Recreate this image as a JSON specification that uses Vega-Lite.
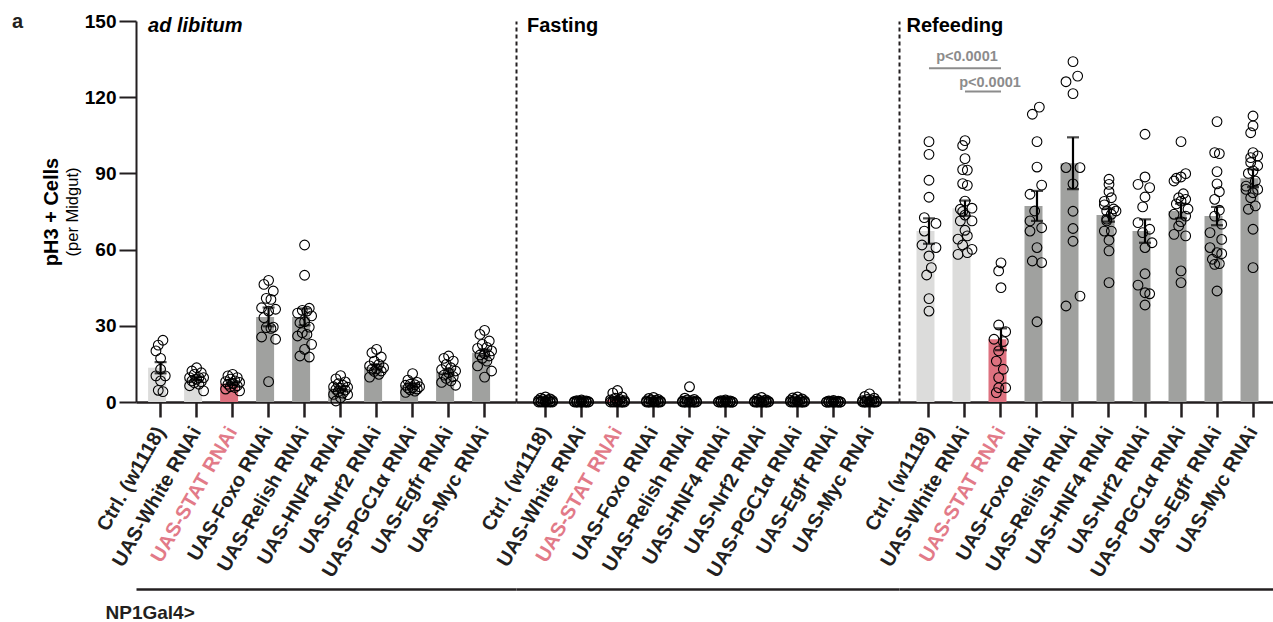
{
"$schema": "https://vega.github.io/schema/vega-lite/v6.json",
"padding": {"left": 12, "top": 12, "right": 0, "bottom": 0},
"background": "white",
"title": {"text": "a", "anchor": "start", "frame": "bounds", "fontSize": 20, "fontWeight": "bold", "font": "Liberation Sans", "color": "#231f20", "offset": -20, "dx": -29},
"config": {"view": {"stroke": null}, "font": "Liberation Sans", "axis": {"grid": false, "labelFont": "Liberation Sans", "titleFont": "Liberation Sans"}},
"datasets": {
"groups": [{"c": "A", "label": "ad libitum"}, {"c": "F", "label": "Fasting"}, {"c": "R", "label": "Refeeding"}],
"pvals": [
{"k": 1, "g1": "Ctrl. (w1118)", "g2": "UAS-STAT RNAi", "y": 131.4, "tg": "UAS-White RNAi", "ty": 135.8, "label": "p<0.0001"},
{"k": 2, "g1": "UAS-White RNAi", "g2": "UAS-STAT RNAi", "y": 122.2, "tg": "UAS-STAT RNAi", "ty": 125.7, "label": "p<0.0001"}
],
"bars": [
{"c":"A","g":"Ctrl. (w1118)","m":13.5,"s":2.2},
{"c":"A","g":"UAS-White RNAi","m":9.3,"s":0.7},
{"c":"A","g":"UAS-STAT RNAi","m":7.2,"s":0.5},
{"c":"A","g":"UAS-Foxo RNAi","m":33.5,"s":3.7},
{"c":"A","g":"UAS-Relish RNAi","m":33.5,"s":3.3},
{"c":"A","g":"UAS-HNF4 RNAi","m":5.3,"s":0.8},
{"c":"A","g":"UAS-Nrf2 RNAi","m":13.8,"s":1.0},
{"c":"A","g":"UAS-PGC1α RNAi","m":6.7,"s":0.6},
{"c":"A","g":"UAS-Egfr RNAi","m":11.9,"s":0.9},
{"c":"A","g":"UAS-Myc RNAi","m":19.4,"s":1.2},
{"c":"F","g":"Ctrl. (w1118)","m":0.5,"s":0.2},
{"c":"F","g":"UAS-White RNAi","m":0.2,"s":0.1},
{"c":"F","g":"UAS-STAT RNAi","m":0.9,"s":0.3},
{"c":"F","g":"UAS-Foxo RNAi","m":0.4,"s":0.2},
{"c":"F","g":"UAS-Relish RNAi","m":0.6,"s":0.4},
{"c":"F","g":"UAS-HNF4 RNAi","m":0.2,"s":0.1},
{"c":"F","g":"UAS-Nrf2 RNAi","m":0.4,"s":0.2},
{"c":"F","g":"UAS-PGC1α RNAi","m":0.5,"s":0.2},
{"c":"F","g":"UAS-Egfr RNAi","m":0.1,"s":0.1},
{"c":"F","g":"UAS-Myc RNAi","m":0.6,"s":0.3},
{"c":"R","g":"Ctrl. (w1118)","m":67.3,"s":5.0},
{"c":"R","g":"UAS-White RNAi","m":76.3,"s":3.0},
{"c":"R","g":"UAS-STAT RNAi","m":24.7,"s":4.3},
{"c":"R","g":"UAS-Foxo RNAi","m":77.2,"s":5.9},
{"c":"R","g":"UAS-Relish RNAi","m":94.0,"s":10.2},
{"c":"R","g":"UAS-HNF4 RNAi","m":73.6,"s":2.6},
{"c":"R","g":"UAS-Nrf2 RNAi","m":67.3,"s":4.6},
{"c":"R","g":"UAS-PGC1α RNAi","m":75.2,"s":2.9},
{"c":"R","g":"UAS-Egfr RNAi","m":73.2,"s":3.6},
{"c":"R","g":"UAS-Myc RNAi","m":88.1,"s":3.5}
],
"points": [
{"c":"A","g":"Ctrl. (w1118)","v":24.3,"j":1},{"c":"A","g":"Ctrl. (w1118)","v":22.4,"j":-1},{"c":"A","g":"Ctrl. (w1118)","v":20.1,"j":-2},{"c":"A","g":"Ctrl. (w1118)","v":17.2,"j":0},{"c":"A","g":"Ctrl. (w1118)","v":12.9,"j":0},{"c":"A","g":"Ctrl. (w1118)","v":10.3,"j":-2},{"c":"A","g":"Ctrl. (w1118)","v":10.3,"j":2},{"c":"A","g":"Ctrl. (w1118)","v":8.3,"j":0},{"c":"A","g":"Ctrl. (w1118)","v":4.6,"j":-1},{"c":"A","g":"Ctrl. (w1118)","v":4.1,"j":1},
{"c":"A","g":"UAS-White RNAi","v":13.5,"j":0},{"c":"A","g":"UAS-White RNAi","v":12.2,"j":-2},{"c":"A","g":"UAS-White RNAi","v":11.5,"j":2},{"c":"A","g":"UAS-White RNAi","v":10.9,"j":-1},{"c":"A","g":"UAS-White RNAi","v":9.6,"j":1},{"c":"A","g":"UAS-White RNAi","v":9.6,"j":-3},{"c":"A","g":"UAS-White RNAi","v":9.6,"j":3},{"c":"A","g":"UAS-White RNAi","v":9.0,"j":0},{"c":"A","g":"UAS-White RNAi","v":8.3,"j":-2},{"c":"A","g":"UAS-White RNAi","v":8.0,"j":2},{"c":"A","g":"UAS-White RNAi","v":7.6,"j":-1},{"c":"A","g":"UAS-White RNAi","v":7.0,"j":1},{"c":"A","g":"UAS-White RNAi","v":6.4,"j":-3},{"c":"A","g":"UAS-White RNAi","v":4.4,"j":3},
{"c":"A","g":"UAS-STAT RNAi","v":10.9,"j":0},{"c":"A","g":"UAS-STAT RNAi","v":10.3,"j":-2},{"c":"A","g":"UAS-STAT RNAi","v":9.6,"j":2},{"c":"A","g":"UAS-STAT RNAi","v":9.0,"j":-1},{"c":"A","g":"UAS-STAT RNAi","v":8.3,"j":1},{"c":"A","g":"UAS-STAT RNAi","v":8.0,"j":-3},{"c":"A","g":"UAS-STAT RNAi","v":7.7,"j":3},{"c":"A","g":"UAS-STAT RNAi","v":7.3,"j":0},{"c":"A","g":"UAS-STAT RNAi","v":7.0,"j":-2},{"c":"A","g":"UAS-STAT RNAi","v":6.4,"j":2},{"c":"A","g":"UAS-STAT RNAi","v":6.0,"j":-1},{"c":"A","g":"UAS-STAT RNAi","v":5.7,"j":1},{"c":"A","g":"UAS-STAT RNAi","v":5.1,"j":-3},{"c":"A","g":"UAS-STAT RNAi","v":4.4,"j":3},
{"c":"A","g":"UAS-Foxo RNAi","v":47.9,"j":0},{"c":"A","g":"UAS-Foxo RNAi","v":46.3,"j":-2},{"c":"A","g":"UAS-Foxo RNAi","v":43.7,"j":2},{"c":"A","g":"UAS-Foxo RNAi","v":40.8,"j":-1},{"c":"A","g":"UAS-Foxo RNAi","v":40.4,"j":1},{"c":"A","g":"UAS-Foxo RNAi","v":37.1,"j":-3},{"c":"A","g":"UAS-Foxo RNAi","v":36.5,"j":3},{"c":"A","g":"UAS-Foxo RNAi","v":35.8,"j":0},{"c":"A","g":"UAS-Foxo RNAi","v":33.2,"j":-2},{"c":"A","g":"UAS-Foxo RNAi","v":29.5,"j":2},{"c":"A","g":"UAS-Foxo RNAi","v":29.3,"j":-1},{"c":"A","g":"UAS-Foxo RNAi","v":29.0,"j":1},{"c":"A","g":"UAS-Foxo RNAi","v":25.6,"j":-3},{"c":"A","g":"UAS-Foxo RNAi","v":24.7,"j":3},{"c":"A","g":"UAS-Foxo RNAi","v":8.0,"j":0},
{"c":"A","g":"UAS-Relish RNAi","v":61.8,"j":0},{"c":"A","g":"UAS-Relish RNAi","v":49.9,"j":0},{"c":"A","g":"UAS-Relish RNAi","v":36.9,"j":2},{"c":"A","g":"UAS-Relish RNAi","v":36.1,"j":-1},{"c":"A","g":"UAS-Relish RNAi","v":35.8,"j":1},{"c":"A","g":"UAS-Relish RNAi","v":35.0,"j":-3},{"c":"A","g":"UAS-Relish RNAi","v":33.9,"j":3},{"c":"A","g":"UAS-Relish RNAi","v":31.6,"j":0},{"c":"A","g":"UAS-Relish RNAi","v":31.2,"j":-2},{"c":"A","g":"UAS-Relish RNAi","v":29.5,"j":2},{"c":"A","g":"UAS-Relish RNAi","v":27.3,"j":-1},{"c":"A","g":"UAS-Relish RNAi","v":26.6,"j":1},{"c":"A","g":"UAS-Relish RNAi","v":26.0,"j":-3},{"c":"A","g":"UAS-Relish RNAi","v":22.7,"j":3},{"c":"A","g":"UAS-Relish RNAi","v":20.7,"j":0},{"c":"A","g":"UAS-Relish RNAi","v":18.1,"j":-2},{"c":"A","g":"UAS-Relish RNAi","v":17.7,"j":2},
{"c":"A","g":"UAS-HNF4 RNAi","v":10.4,"j":0},{"c":"A","g":"UAS-HNF4 RNAi","v":9.1,"j":-2},{"c":"A","g":"UAS-HNF4 RNAi","v":7.9,"j":2},{"c":"A","g":"UAS-HNF4 RNAi","v":7.2,"j":-1},{"c":"A","g":"UAS-HNF4 RNAi","v":6.6,"j":1},{"c":"A","g":"UAS-HNF4 RNAi","v":6.0,"j":-3},{"c":"A","g":"UAS-HNF4 RNAi","v":5.8,"j":3},{"c":"A","g":"UAS-HNF4 RNAi","v":5.4,"j":0},{"c":"A","g":"UAS-HNF4 RNAi","v":5.0,"j":-2},{"c":"A","g":"UAS-HNF4 RNAi","v":4.7,"j":2},{"c":"A","g":"UAS-HNF4 RNAi","v":4.1,"j":-1},{"c":"A","g":"UAS-HNF4 RNAi","v":3.5,"j":1},{"c":"A","g":"UAS-HNF4 RNAi","v":3.0,"j":-3},{"c":"A","g":"UAS-HNF4 RNAi","v":2.9,"j":3},{"c":"A","g":"UAS-HNF4 RNAi","v":1.7,"j":0},{"c":"A","g":"UAS-HNF4 RNAi","v":0.4,"j":-2},
{"c":"A","g":"UAS-Nrf2 RNAi","v":20.7,"j":0},{"c":"A","g":"UAS-Nrf2 RNAi","v":19.4,"j":-2},{"c":"A","g":"UAS-Nrf2 RNAi","v":17.7,"j":2},{"c":"A","g":"UAS-Nrf2 RNAi","v":16.1,"j":-1},{"c":"A","g":"UAS-Nrf2 RNAi","v":14.8,"j":1},{"c":"A","g":"UAS-Nrf2 RNAi","v":14.2,"j":-3},{"c":"A","g":"UAS-Nrf2 RNAi","v":13.5,"j":3},{"c":"A","g":"UAS-Nrf2 RNAi","v":13.0,"j":0},{"c":"A","g":"UAS-Nrf2 RNAi","v":12.9,"j":-2},{"c":"A","g":"UAS-Nrf2 RNAi","v":12.2,"j":2},{"c":"A","g":"UAS-Nrf2 RNAi","v":12.0,"j":-1},{"c":"A","g":"UAS-Nrf2 RNAi","v":10.9,"j":1},{"c":"A","g":"UAS-Nrf2 RNAi","v":9.8,"j":-3},
{"c":"A","g":"UAS-PGC1α RNAi","v":11.2,"j":0},{"c":"A","g":"UAS-PGC1α RNAi","v":8.6,"j":-2},{"c":"A","g":"UAS-PGC1α RNAi","v":7.7,"j":2},{"c":"A","g":"UAS-PGC1α RNAi","v":7.0,"j":-1},{"c":"A","g":"UAS-PGC1α RNAi","v":6.8,"j":1},{"c":"A","g":"UAS-PGC1α RNAi","v":6.6,"j":-3},{"c":"A","g":"UAS-PGC1α RNAi","v":6.0,"j":3},{"c":"A","g":"UAS-PGC1α RNAi","v":5.6,"j":0},{"c":"A","g":"UAS-PGC1α RNAi","v":5.5,"j":-2},{"c":"A","g":"UAS-PGC1α RNAi","v":5.1,"j":2},{"c":"A","g":"UAS-PGC1α RNAi","v":4.8,"j":-1},{"c":"A","g":"UAS-PGC1α RNAi","v":4.3,"j":1},{"c":"A","g":"UAS-PGC1α RNAi","v":3.8,"j":-3},
{"c":"A","g":"UAS-Egfr RNAi","v":18.1,"j":0},{"c":"A","g":"UAS-Egfr RNAi","v":17.2,"j":-2},{"c":"A","g":"UAS-Egfr RNAi","v":16.1,"j":2},{"c":"A","g":"UAS-Egfr RNAi","v":14.8,"j":-1},{"c":"A","g":"UAS-Egfr RNAi","v":13.5,"j":1},{"c":"A","g":"UAS-Egfr RNAi","v":12.8,"j":-3},{"c":"A","g":"UAS-Egfr RNAi","v":12.2,"j":3},{"c":"A","g":"UAS-Egfr RNAi","v":11.5,"j":0},{"c":"A","g":"UAS-Egfr RNAi","v":10.6,"j":-2},{"c":"A","g":"UAS-Egfr RNAi","v":10.0,"j":2},{"c":"A","g":"UAS-Egfr RNAi","v":9.3,"j":-1},{"c":"A","g":"UAS-Egfr RNAi","v":8.3,"j":1},{"c":"A","g":"UAS-Egfr RNAi","v":7.7,"j":-3},{"c":"A","g":"UAS-Egfr RNAi","v":6.6,"j":3},
{"c":"A","g":"UAS-Myc RNAi","v":28.2,"j":0},{"c":"A","g":"UAS-Myc RNAi","v":26.6,"j":-2},{"c":"A","g":"UAS-Myc RNAi","v":24.0,"j":2},{"c":"A","g":"UAS-Myc RNAi","v":22.7,"j":-1},{"c":"A","g":"UAS-Myc RNAi","v":21.5,"j":1},{"c":"A","g":"UAS-Myc RNAi","v":21.1,"j":-3},{"c":"A","g":"UAS-Myc RNAi","v":20.1,"j":3},{"c":"A","g":"UAS-Myc RNAi","v":19.0,"j":0},{"c":"A","g":"UAS-Myc RNAi","v":18.5,"j":-2},{"c":"A","g":"UAS-Myc RNAi","v":18.1,"j":2},{"c":"A","g":"UAS-Myc RNAi","v":17.2,"j":-1},{"c":"A","g":"UAS-Myc RNAi","v":16.1,"j":1},{"c":"A","g":"UAS-Myc RNAi","v":14.2,"j":-3},{"c":"A","g":"UAS-Myc RNAi","v":12.2,"j":3},{"c":"A","g":"UAS-Myc RNAi","v":9.8,"j":0},
{"c":"F","g":"Ctrl. (w1118)","v":2.0,"j":0},{"c":"F","g":"Ctrl. (w1118)","v":1.5,"j":-2},{"c":"F","g":"Ctrl. (w1118)","v":1.2,"j":2},{"c":"F","g":"Ctrl. (w1118)","v":1.0,"j":-1},{"c":"F","g":"Ctrl. (w1118)","v":0.8,"j":1},{"c":"F","g":"Ctrl. (w1118)","v":0.6,"j":-3},{"c":"F","g":"Ctrl. (w1118)","v":0.5,"j":3},{"c":"F","g":"Ctrl. (w1118)","v":0.3,"j":0},{"c":"F","g":"Ctrl. (w1118)","v":0.2,"j":-2},{"c":"F","g":"Ctrl. (w1118)","v":0.1,"j":2},{"c":"F","g":"Ctrl. (w1118)","v":0,"j":-1},{"c":"F","g":"Ctrl. (w1118)","v":0,"j":1},{"c":"F","g":"Ctrl. (w1118)","v":0,"j":-3},{"c":"F","g":"Ctrl. (w1118)","v":0,"j":3},{"c":"F","g":"Ctrl. (w1118)","v":0,"j":0},{"c":"F","g":"Ctrl. (w1118)","v":0,"j":-2},{"c":"F","g":"Ctrl. (w1118)","v":0,"j":2},
{"c":"F","g":"UAS-White RNAi","v":0.8,"j":0},{"c":"F","g":"UAS-White RNAi","v":0.5,"j":-2},{"c":"F","g":"UAS-White RNAi","v":0.4,"j":2},{"c":"F","g":"UAS-White RNAi","v":0.3,"j":-1},{"c":"F","g":"UAS-White RNAi","v":0.2,"j":1},{"c":"F","g":"UAS-White RNAi","v":0.2,"j":-3},{"c":"F","g":"UAS-White RNAi","v":0.1,"j":3},{"c":"F","g":"UAS-White RNAi","v":0,"j":0},{"c":"F","g":"UAS-White RNAi","v":0,"j":-2},{"c":"F","g":"UAS-White RNAi","v":0,"j":2},{"c":"F","g":"UAS-White RNAi","v":0,"j":-1},{"c":"F","g":"UAS-White RNAi","v":0,"j":1},{"c":"F","g":"UAS-White RNAi","v":0,"j":-3},{"c":"F","g":"UAS-White RNAi","v":0,"j":3},{"c":"F","g":"UAS-White RNAi","v":0,"j":0},{"c":"F","g":"UAS-White RNAi","v":0,"j":-2},{"c":"F","g":"UAS-White RNAi","v":0,"j":2},
{"c":"F","g":"UAS-STAT RNAi","v":4.5,"j":0},{"c":"F","g":"UAS-STAT RNAi","v":3.5,"j":-2},{"c":"F","g":"UAS-STAT RNAi","v":2.0,"j":2},{"c":"F","g":"UAS-STAT RNAi","v":1.5,"j":-1},{"c":"F","g":"UAS-STAT RNAi","v":1.0,"j":1},{"c":"F","g":"UAS-STAT RNAi","v":0.8,"j":-3},{"c":"F","g":"UAS-STAT RNAi","v":0.5,"j":3},{"c":"F","g":"UAS-STAT RNAi","v":0.3,"j":0},{"c":"F","g":"UAS-STAT RNAi","v":0.2,"j":-2},{"c":"F","g":"UAS-STAT RNAi","v":0,"j":2},{"c":"F","g":"UAS-STAT RNAi","v":0,"j":-1},{"c":"F","g":"UAS-STAT RNAi","v":0,"j":1},{"c":"F","g":"UAS-STAT RNAi","v":0,"j":-3},{"c":"F","g":"UAS-STAT RNAi","v":0,"j":3},{"c":"F","g":"UAS-STAT RNAi","v":0,"j":0},{"c":"F","g":"UAS-STAT RNAi","v":0,"j":-2},{"c":"F","g":"UAS-STAT RNAi","v":0,"j":2},
{"c":"F","g":"UAS-Foxo RNAi","v":1.8,"j":0},{"c":"F","g":"UAS-Foxo RNAi","v":1.4,"j":-2},{"c":"F","g":"UAS-Foxo RNAi","v":1.0,"j":2},{"c":"F","g":"UAS-Foxo RNAi","v":0.8,"j":-1},{"c":"F","g":"UAS-Foxo RNAi","v":0.6,"j":1},{"c":"F","g":"UAS-Foxo RNAi","v":0.4,"j":-3},{"c":"F","g":"UAS-Foxo RNAi","v":0.3,"j":3},{"c":"F","g":"UAS-Foxo RNAi","v":0.2,"j":0},{"c":"F","g":"UAS-Foxo RNAi","v":0,"j":-2},{"c":"F","g":"UAS-Foxo RNAi","v":0,"j":2},{"c":"F","g":"UAS-Foxo RNAi","v":0,"j":-1},{"c":"F","g":"UAS-Foxo RNAi","v":0,"j":1},{"c":"F","g":"UAS-Foxo RNAi","v":0,"j":-3},{"c":"F","g":"UAS-Foxo RNAi","v":0,"j":3},{"c":"F","g":"UAS-Foxo RNAi","v":0,"j":0},{"c":"F","g":"UAS-Foxo RNAi","v":0,"j":-2},{"c":"F","g":"UAS-Foxo RNAi","v":0,"j":2},
{"c":"F","g":"UAS-Relish RNAi","v":6.0,"j":0},{"c":"F","g":"UAS-Relish RNAi","v":1.5,"j":-2},{"c":"F","g":"UAS-Relish RNAi","v":1.0,"j":2},{"c":"F","g":"UAS-Relish RNAi","v":0.8,"j":-1},{"c":"F","g":"UAS-Relish RNAi","v":0.5,"j":1},{"c":"F","g":"UAS-Relish RNAi","v":0.3,"j":-3},{"c":"F","g":"UAS-Relish RNAi","v":0.2,"j":3},{"c":"F","g":"UAS-Relish RNAi","v":0,"j":0},{"c":"F","g":"UAS-Relish RNAi","v":0,"j":-2},{"c":"F","g":"UAS-Relish RNAi","v":0,"j":2},{"c":"F","g":"UAS-Relish RNAi","v":0,"j":-1},{"c":"F","g":"UAS-Relish RNAi","v":0,"j":1},{"c":"F","g":"UAS-Relish RNAi","v":0,"j":-3},{"c":"F","g":"UAS-Relish RNAi","v":0,"j":3},{"c":"F","g":"UAS-Relish RNAi","v":0,"j":0},{"c":"F","g":"UAS-Relish RNAi","v":0,"j":-2},{"c":"F","g":"UAS-Relish RNAi","v":0,"j":2},
{"c":"F","g":"UAS-HNF4 RNAi","v":0.8,"j":0},{"c":"F","g":"UAS-HNF4 RNAi","v":0.5,"j":-2},{"c":"F","g":"UAS-HNF4 RNAi","v":0.4,"j":2},{"c":"F","g":"UAS-HNF4 RNAi","v":0.3,"j":-1},{"c":"F","g":"UAS-HNF4 RNAi","v":0.2,"j":1},{"c":"F","g":"UAS-HNF4 RNAi","v":0.1,"j":-3},{"c":"F","g":"UAS-HNF4 RNAi","v":0,"j":3},{"c":"F","g":"UAS-HNF4 RNAi","v":0,"j":0},{"c":"F","g":"UAS-HNF4 RNAi","v":0,"j":-2},{"c":"F","g":"UAS-HNF4 RNAi","v":0,"j":2},{"c":"F","g":"UAS-HNF4 RNAi","v":0,"j":-1},{"c":"F","g":"UAS-HNF4 RNAi","v":0,"j":1},{"c":"F","g":"UAS-HNF4 RNAi","v":0,"j":-3},{"c":"F","g":"UAS-HNF4 RNAi","v":0,"j":3},{"c":"F","g":"UAS-HNF4 RNAi","v":0,"j":0},{"c":"F","g":"UAS-HNF4 RNAi","v":0,"j":-2},{"c":"F","g":"UAS-HNF4 RNAi","v":0,"j":2},
{"c":"F","g":"UAS-Nrf2 RNAi","v":1.8,"j":0},{"c":"F","g":"UAS-Nrf2 RNAi","v":1.2,"j":-2},{"c":"F","g":"UAS-Nrf2 RNAi","v":0.8,"j":2},{"c":"F","g":"UAS-Nrf2 RNAi","v":0.6,"j":-1},{"c":"F","g":"UAS-Nrf2 RNAi","v":0.5,"j":1},{"c":"F","g":"UAS-Nrf2 RNAi","v":0.3,"j":-3},{"c":"F","g":"UAS-Nrf2 RNAi","v":0.2,"j":3},{"c":"F","g":"UAS-Nrf2 RNAi","v":0.1,"j":0},{"c":"F","g":"UAS-Nrf2 RNAi","v":0,"j":-2},{"c":"F","g":"UAS-Nrf2 RNAi","v":0,"j":2},{"c":"F","g":"UAS-Nrf2 RNAi","v":0,"j":-1},{"c":"F","g":"UAS-Nrf2 RNAi","v":0,"j":1},{"c":"F","g":"UAS-Nrf2 RNAi","v":0,"j":-3},{"c":"F","g":"UAS-Nrf2 RNAi","v":0,"j":3},{"c":"F","g":"UAS-Nrf2 RNAi","v":0,"j":0},{"c":"F","g":"UAS-Nrf2 RNAi","v":0,"j":-2},{"c":"F","g":"UAS-Nrf2 RNAi","v":0,"j":2},
{"c":"F","g":"UAS-PGC1α RNAi","v":2.0,"j":0},{"c":"F","g":"UAS-PGC1α RNAi","v":1.6,"j":-2},{"c":"F","g":"UAS-PGC1α RNAi","v":1.2,"j":2},{"c":"F","g":"UAS-PGC1α RNAi","v":1.0,"j":-1},{"c":"F","g":"UAS-PGC1α RNAi","v":0.8,"j":1},{"c":"F","g":"UAS-PGC1α RNAi","v":0.6,"j":-3},{"c":"F","g":"UAS-PGC1α RNAi","v":0.4,"j":3},{"c":"F","g":"UAS-PGC1α RNAi","v":0.2,"j":0},{"c":"F","g":"UAS-PGC1α RNAi","v":0.1,"j":-2},{"c":"F","g":"UAS-PGC1α RNAi","v":0,"j":2},{"c":"F","g":"UAS-PGC1α RNAi","v":0,"j":-1},{"c":"F","g":"UAS-PGC1α RNAi","v":0,"j":1},{"c":"F","g":"UAS-PGC1α RNAi","v":0,"j":-3},{"c":"F","g":"UAS-PGC1α RNAi","v":0,"j":3},{"c":"F","g":"UAS-PGC1α RNAi","v":0,"j":0},{"c":"F","g":"UAS-PGC1α RNAi","v":0,"j":-2},{"c":"F","g":"UAS-PGC1α RNAi","v":0,"j":2},
{"c":"F","g":"UAS-Egfr RNAi","v":0.6,"j":0},{"c":"F","g":"UAS-Egfr RNAi","v":0.4,"j":-2},{"c":"F","g":"UAS-Egfr RNAi","v":0.3,"j":2},{"c":"F","g":"UAS-Egfr RNAi","v":0.2,"j":-1},{"c":"F","g":"UAS-Egfr RNAi","v":0.1,"j":1},{"c":"F","g":"UAS-Egfr RNAi","v":0,"j":-3},{"c":"F","g":"UAS-Egfr RNAi","v":0,"j":3},{"c":"F","g":"UAS-Egfr RNAi","v":0,"j":0},{"c":"F","g":"UAS-Egfr RNAi","v":0,"j":-2},{"c":"F","g":"UAS-Egfr RNAi","v":0,"j":2},{"c":"F","g":"UAS-Egfr RNAi","v":0,"j":-1},{"c":"F","g":"UAS-Egfr RNAi","v":0,"j":1},{"c":"F","g":"UAS-Egfr RNAi","v":0,"j":-3},{"c":"F","g":"UAS-Egfr RNAi","v":0,"j":3},{"c":"F","g":"UAS-Egfr RNAi","v":0,"j":0},{"c":"F","g":"UAS-Egfr RNAi","v":0,"j":-2},{"c":"F","g":"UAS-Egfr RNAi","v":0,"j":2},
{"c":"F","g":"UAS-Myc RNAi","v":3.2,"j":0},{"c":"F","g":"UAS-Myc RNAi","v":2.2,"j":-2},{"c":"F","g":"UAS-Myc RNAi","v":1.5,"j":2},{"c":"F","g":"UAS-Myc RNAi","v":1.0,"j":-1},{"c":"F","g":"UAS-Myc RNAi","v":0.8,"j":1},{"c":"F","g":"UAS-Myc RNAi","v":0.5,"j":-3},{"c":"F","g":"UAS-Myc RNAi","v":0.3,"j":3},{"c":"F","g":"UAS-Myc RNAi","v":0.2,"j":0},{"c":"F","g":"UAS-Myc RNAi","v":0,"j":-2},{"c":"F","g":"UAS-Myc RNAi","v":0,"j":2},{"c":"F","g":"UAS-Myc RNAi","v":0,"j":-1},{"c":"F","g":"UAS-Myc RNAi","v":0,"j":1},{"c":"F","g":"UAS-Myc RNAi","v":0,"j":-3},{"c":"F","g":"UAS-Myc RNAi","v":0,"j":3},{"c":"F","g":"UAS-Myc RNAi","v":0,"j":0},{"c":"F","g":"UAS-Myc RNAi","v":0,"j":-2},{"c":"F","g":"UAS-Myc RNAi","v":0,"j":2},
{"c":"R","g":"Ctrl. (w1118)","v":102.5,"j":0},{"c":"R","g":"Ctrl. (w1118)","v":97.5,"j":0},{"c":"R","g":"Ctrl. (w1118)","v":87.3,"j":0},{"c":"R","g":"Ctrl. (w1118)","v":80.6,"j":0},{"c":"R","g":"Ctrl. (w1118)","v":72.6,"j":-2},{"c":"R","g":"Ctrl. (w1118)","v":70.3,"j":3},{"c":"R","g":"Ctrl. (w1118)","v":67.3,"j":-2},{"c":"R","g":"Ctrl. (w1118)","v":61.8,"j":-3},{"c":"R","g":"Ctrl. (w1118)","v":60.8,"j":3},{"c":"R","g":"Ctrl. (w1118)","v":57.5,"j":0},{"c":"R","g":"Ctrl. (w1118)","v":52.9,"j":1},{"c":"R","g":"Ctrl. (w1118)","v":50.0,"j":-1},{"c":"R","g":"Ctrl. (w1118)","v":40.7,"j":0},{"c":"R","g":"Ctrl. (w1118)","v":35.8,"j":0},
{"c":"R","g":"UAS-White RNAi","v":102.9,"j":0},{"c":"R","g":"UAS-White RNAi","v":101.0,"j":-1},{"c":"R","g":"UAS-White RNAi","v":95.8,"j":0},{"c":"R","g":"UAS-White RNAi","v":91.5,"j":-1},{"c":"R","g":"UAS-White RNAi","v":91.3,"j":1},{"c":"R","g":"UAS-White RNAi","v":86.0,"j":-1},{"c":"R","g":"UAS-White RNAi","v":85.3,"j":1},{"c":"R","g":"UAS-White RNAi","v":79.1,"j":0},{"c":"R","g":"UAS-White RNAi","v":76.3,"j":3},{"c":"R","g":"UAS-White RNAi","v":75.9,"j":-2},{"c":"R","g":"UAS-White RNAi","v":75.0,"j":-1},{"c":"R","g":"UAS-White RNAi","v":73.6,"j":0},{"c":"R","g":"UAS-White RNAi","v":71.3,"j":-2},{"c":"R","g":"UAS-White RNAi","v":71.3,"j":3},{"c":"R","g":"UAS-White RNAi","v":67.6,"j":0},{"c":"R","g":"UAS-White RNAi","v":65.4,"j":1},{"c":"R","g":"UAS-White RNAi","v":64.1,"j":-3},{"c":"R","g":"UAS-White RNAi","v":61.8,"j":-1},{"c":"R","g":"UAS-White RNAi","v":60.1,"j":3},{"c":"R","g":"UAS-White RNAi","v":58.8,"j":1},{"c":"R","g":"UAS-White RNAi","v":58.1,"j":-3},
{"c":"R","g":"UAS-STAT RNAi","v":54.8,"j":0},{"c":"R","g":"UAS-STAT RNAi","v":51.6,"j":-1},{"c":"R","g":"UAS-STAT RNAi","v":45.0,"j":0},{"c":"R","g":"UAS-STAT RNAi","v":30.3,"j":-1},{"c":"R","g":"UAS-STAT RNAi","v":27.7,"j":2},{"c":"R","g":"UAS-STAT RNAi","v":24.7,"j":-3},{"c":"R","g":"UAS-STAT RNAi","v":23.8,"j":1},{"c":"R","g":"UAS-STAT RNAi","v":20.1,"j":-1},{"c":"R","g":"UAS-STAT RNAi","v":16.1,"j":-2},{"c":"R","g":"UAS-STAT RNAi","v":12.9,"j":1},{"c":"R","g":"UAS-STAT RNAi","v":9.6,"j":-1},{"c":"R","g":"UAS-STAT RNAi","v":5.6,"j":-1},{"c":"R","g":"UAS-STAT RNAi","v":5.6,"j":2},{"c":"R","g":"UAS-STAT RNAi","v":3.7,"j":-2},
{"c":"R","g":"UAS-Foxo RNAi","v":116.1,"j":1},{"c":"R","g":"UAS-Foxo RNAi","v":113.3,"j":-2},{"c":"R","g":"UAS-Foxo RNAi","v":102.5,"j":0},{"c":"R","g":"UAS-Foxo RNAi","v":92.5,"j":0},{"c":"R","g":"UAS-Foxo RNAi","v":85.4,"j":2},{"c":"R","g":"UAS-Foxo RNAi","v":81.8,"j":-3},{"c":"R","g":"UAS-Foxo RNAi","v":75.2,"j":-1},{"c":"R","g":"UAS-Foxo RNAi","v":71.3,"j":-3},{"c":"R","g":"UAS-Foxo RNAi","v":68.6,"j":2},{"c":"R","g":"UAS-Foxo RNAi","v":67.3,"j":-3},{"c":"R","g":"UAS-Foxo RNAi","v":60.8,"j":0},{"c":"R","g":"UAS-Foxo RNAi","v":55.5,"j":-2},{"c":"R","g":"UAS-Foxo RNAi","v":54.9,"j":2},{"c":"R","g":"UAS-Foxo RNAi","v":31.6,"j":0},
{"c":"R","g":"UAS-Relish RNAi","v":134.0,"j":0},{"c":"R","g":"UAS-Relish RNAi","v":128.3,"j":2},{"c":"R","g":"UAS-Relish RNAi","v":126.1,"j":-3},{"c":"R","g":"UAS-Relish RNAi","v":121.4,"j":0},{"c":"R","g":"UAS-Relish RNAi","v":92.3,"j":-3},{"c":"R","g":"UAS-Relish RNAi","v":92.3,"j":3},{"c":"R","g":"UAS-Relish RNAi","v":85.9,"j":0},{"c":"R","g":"UAS-Relish RNAi","v":75.1,"j":0},{"c":"R","g":"UAS-Relish RNAi","v":68.3,"j":0},{"c":"R","g":"UAS-Relish RNAi","v":63.3,"j":0},{"c":"R","g":"UAS-Relish RNAi","v":41.7,"j":3},{"c":"R","g":"UAS-Relish RNAi","v":37.8,"j":-3},
{"c":"R","g":"UAS-HNF4 RNAi","v":87.7,"j":0},{"c":"R","g":"UAS-HNF4 RNAi","v":85.7,"j":0},{"c":"R","g":"UAS-HNF4 RNAi","v":82.8,"j":0},{"c":"R","g":"UAS-HNF4 RNAi","v":80.4,"j":1},{"c":"R","g":"UAS-HNF4 RNAi","v":79.0,"j":-2},{"c":"R","g":"UAS-HNF4 RNAi","v":77.6,"j":-2},{"c":"R","g":"UAS-HNF4 RNAi","v":76.0,"j":2},{"c":"R","g":"UAS-HNF4 RNAi","v":75.2,"j":3},{"c":"R","g":"UAS-HNF4 RNAi","v":75.2,"j":-1},{"c":"R","g":"UAS-HNF4 RNAi","v":73.9,"j":1},{"c":"R","g":"UAS-HNF4 RNAi","v":72.0,"j":-1},{"c":"R","g":"UAS-HNF4 RNAi","v":71.3,"j":-1},{"c":"R","g":"UAS-HNF4 RNAi","v":67.3,"j":-2},{"c":"R","g":"UAS-HNF4 RNAi","v":67.3,"j":1},{"c":"R","g":"UAS-HNF4 RNAi","v":63.7,"j":0},{"c":"R","g":"UAS-HNF4 RNAi","v":59.5,"j":0},{"c":"R","g":"UAS-HNF4 RNAi","v":47.0,"j":0},
{"c":"R","g":"UAS-Nrf2 RNAi","v":105.4,"j":0},{"c":"R","g":"UAS-Nrf2 RNAi","v":88.6,"j":0},{"c":"R","g":"UAS-Nrf2 RNAi","v":85.7,"j":-3},{"c":"R","g":"UAS-Nrf2 RNAi","v":84.4,"j":2},{"c":"R","g":"UAS-Nrf2 RNAi","v":80.7,"j":0},{"c":"R","g":"UAS-Nrf2 RNAi","v":76.8,"j":-1},{"c":"R","g":"UAS-Nrf2 RNAi","v":70.6,"j":-3},{"c":"R","g":"UAS-Nrf2 RNAi","v":68.0,"j":2},{"c":"R","g":"UAS-Nrf2 RNAi","v":66.7,"j":-1},{"c":"R","g":"UAS-Nrf2 RNAi","v":62.7,"j":3},{"c":"R","g":"UAS-Nrf2 RNAi","v":60.8,"j":0},{"c":"R","g":"UAS-Nrf2 RNAi","v":50.5,"j":0},{"c":"R","g":"UAS-Nrf2 RNAi","v":46.0,"j":-3},{"c":"R","g":"UAS-Nrf2 RNAi","v":43.0,"j":0},{"c":"R","g":"UAS-Nrf2 RNAi","v":42.6,"j":2},{"c":"R","g":"UAS-Nrf2 RNAi","v":38.2,"j":0},
{"c":"R","g":"UAS-PGC1α RNAi","v":102.5,"j":0},{"c":"R","g":"UAS-PGC1α RNAi","v":89.9,"j":2},{"c":"R","g":"UAS-PGC1α RNAi","v":88.6,"j":0},{"c":"R","g":"UAS-PGC1α RNAi","v":88.1,"j":-2},{"c":"R","g":"UAS-PGC1α RNAi","v":87.0,"j":-3},{"c":"R","g":"UAS-PGC1α RNAi","v":82.0,"j":1},{"c":"R","g":"UAS-PGC1α RNAi","v":80.4,"j":-1},{"c":"R","g":"UAS-PGC1α RNAi","v":79.8,"j":2},{"c":"R","g":"UAS-PGC1α RNAi","v":79.1,"j":0},{"c":"R","g":"UAS-PGC1α RNAi","v":78.0,"j":-2},{"c":"R","g":"UAS-PGC1α RNAi","v":76.0,"j":3},{"c":"R","g":"UAS-PGC1α RNAi","v":73.9,"j":-3},{"c":"R","g":"UAS-PGC1α RNAi","v":73.2,"j":2},{"c":"R","g":"UAS-PGC1α RNAi","v":71.0,"j":0},{"c":"R","g":"UAS-PGC1α RNAi","v":69.3,"j":-1},{"c":"R","g":"UAS-PGC1α RNAi","v":66.0,"j":-3},{"c":"R","g":"UAS-PGC1α RNAi","v":65.4,"j":2},{"c":"R","g":"UAS-PGC1α RNAi","v":51.6,"j":0},{"c":"R","g":"UAS-PGC1α RNAi","v":47.0,"j":0},
{"c":"R","g":"UAS-Egfr RNAi","v":110.4,"j":0},{"c":"R","g":"UAS-Egfr RNAi","v":98.2,"j":-1},{"c":"R","g":"UAS-Egfr RNAi","v":97.8,"j":1},{"c":"R","g":"UAS-Egfr RNAi","v":90.7,"j":0},{"c":"R","g":"UAS-Egfr RNAi","v":85.9,"j":0},{"c":"R","g":"UAS-Egfr RNAi","v":82.8,"j":1},{"c":"R","g":"UAS-Egfr RNAi","v":79.8,"j":-1},{"c":"R","g":"UAS-Egfr RNAi","v":75.5,"j":1},{"c":"R","g":"UAS-Egfr RNAi","v":73.2,"j":-1},{"c":"R","g":"UAS-Egfr RNAi","v":70.0,"j":2},{"c":"R","g":"UAS-Egfr RNAi","v":66.7,"j":-3},{"c":"R","g":"UAS-Egfr RNAi","v":64.0,"j":2},{"c":"R","g":"UAS-Egfr RNAi","v":60.8,"j":-3},{"c":"R","g":"UAS-Egfr RNAi","v":58.8,"j":0},{"c":"R","g":"UAS-Egfr RNAi","v":58.4,"j":2},{"c":"R","g":"UAS-Egfr RNAi","v":56.2,"j":-2},{"c":"R","g":"UAS-Egfr RNAi","v":54.5,"j":1},{"c":"R","g":"UAS-Egfr RNAi","v":54.2,"j":-1},{"c":"R","g":"UAS-Egfr RNAi","v":43.7,"j":0},
{"c":"R","g":"UAS-Myc RNAi","v":112.6,"j":0},{"c":"R","g":"UAS-Myc RNAi","v":108.7,"j":0},{"c":"R","g":"UAS-Myc RNAi","v":106.0,"j":-1},{"c":"R","g":"UAS-Myc RNAi","v":98.2,"j":0},{"c":"R","g":"UAS-Myc RNAi","v":96.9,"j":2},{"c":"R","g":"UAS-Myc RNAi","v":96.2,"j":-1},{"c":"R","g":"UAS-Myc RNAi","v":94.3,"j":-1},{"c":"R","g":"UAS-Myc RNAi","v":93.0,"j":2},{"c":"R","g":"UAS-Myc RNAi","v":91.0,"j":0},{"c":"R","g":"UAS-Myc RNAi","v":90.0,"j":-2},{"c":"R","g":"UAS-Myc RNAi","v":87.0,"j":1},{"c":"R","g":"UAS-Myc RNAi","v":85.0,"j":-3},{"c":"R","g":"UAS-Myc RNAi","v":83.7,"j":-3},{"c":"R","g":"UAS-Myc RNAi","v":83.7,"j":2},{"c":"R","g":"UAS-Myc RNAi","v":82.4,"j":0},{"c":"R","g":"UAS-Myc RNAi","v":80.4,"j":-1},{"c":"R","g":"UAS-Myc RNAi","v":77.2,"j":1},{"c":"R","g":"UAS-Myc RNAi","v":75.9,"j":-2},{"c":"R","g":"UAS-Myc RNAi","v":68.0,"j":0},{"c":"R","g":"UAS-Myc RNAi","v":52.9,"j":0}
]
},
"spacing": 0,
"bounds": "flush",
"resolve": {"scale": {"x": "independent", "y": "independent"}},
"hconcat": [
{
"width": 380, "height": 381,
"layer": [
{"data": {"name": "bars"}, "transform": [{"filter": "datum.c === 'A'"}],
 "mark": {"type": "bar"},
 "encoding": {
  "x": {"field": "g", "type": "nominal", "sort": null, "scale": {"domain": ["Ctrl. (w1118)","UAS-White RNAi","UAS-STAT RNAi","UAS-Foxo RNAi","UAS-Relish RNAi","UAS-HNF4 RNAi","UAS-Nrf2 RNAi","UAS-PGC1α RNAi","UAS-Egfr RNAi","UAS-Myc RNAi"], "paddingInner": 0.306, "paddingOuter": 0.431, "align": 0.39},
   "axis": {"title": null, "labelAngle": -60, "labelFontSize": 20, "labelFontWeight": "bold", "labelColor": {"condition": {"test": "datum.value === 'UAS-STAT RNAi'", "value": "#e27a88"}, "value": "#231f20"}, "labelPadding": 11, "labelLimit": 300, "tickSize": 15, "tickWidth": 2.5, "tickColor": "#231f20", "domainWidth": 2.5, "domainColor": "#231f20"}},
  "y": {"field": "m", "type": "quantitative", "scale": {"domain": [0, 150], "nice": false},
   "axis": {"orient": "left", "values": [0, 30, 60, 90, 120, 150], "labelFontSize": 19, "labelFontWeight": "bold", "labelColor": "#000", "labelPadding": 3, "tickSize": 17, "tickWidth": 2, "tickColor": "#231f20", "domainColor": "#231f20", "domainWidth": 2, "title": "(per Midgut)", "titleFontSize": 16.5, "titleFontWeight": "normal", "titleColor": "#000", "titlePadding": 4}},
  "color": {"field": "g", "type": "nominal", "legend": null, "scale": {"domain": ["Ctrl. (w1118)","UAS-White RNAi","UAS-STAT RNAi","UAS-Foxo RNAi","UAS-Relish RNAi","UAS-HNF4 RNAi","UAS-Nrf2 RNAi","UAS-PGC1α RNAi","UAS-Egfr RNAi","UAS-Myc RNAi"], "range": ["#dcdcdb","#dcdcdb","#de717f","#a0a19f","#a0a19f","#a0a19f","#a0a19f","#a0a19f","#a0a19f","#a0a19f"]}}
 }},
{"data": {"name": "points"}, "transform": [{"filter": "datum.c === 'A'"}],
 "mark": {"type": "point", "shape": "circle", "filled": false, "size": 95, "color": "#000", "strokeWidth": 1.1, "opacity": 1},
 "encoding": {
  "x": {"field": "g", "type": "nominal", "sort": null, "scale": {"domain": ["Ctrl. (w1118)","UAS-White RNAi","UAS-STAT RNAi","UAS-Foxo RNAi","UAS-Relish RNAi","UAS-HNF4 RNAi","UAS-Nrf2 RNAi","UAS-PGC1α RNAi","UAS-Egfr RNAi","UAS-Myc RNAi"]},
   "axis": {"orient": "bottom", "offset": 187, "labels": false, "ticks": false, "domain": true, "domainWidth": 2.5, "domainColor": "#231f20", "title": "NP1Gal4>", "titleFontSize": 19, "titleFontWeight": "bold", "titleColor": "#231f20", "titleAnchor": "start", "titleAlign": "left", "titleX": -31, "titleY": 14, "titleBaseline": "top"}},
  "xOffset": {"field": "j", "type": "quantitative", "scale": {"domain": [-3, 3], "range": [5.5, 19.5]}},
  "y": {"field": "v", "type": "quantitative", "scale": {"domain": [0, 150], "nice": false},
   "axis": {"orient": "left", "title": "pH3 + Cells", "titleFontSize": 20, "titleFontWeight": "bold", "titleColor": "#000", "titlePadding": 75, "labels": false, "ticks": false, "domain": false}}
 }},
{"data": {"name": "bars"}, "transform": [{"filter": "datum.c === 'A'"}],
 "mark": {"type": "errorbar", "ticks": {"size": 12, "thickness": 2.2, "color": "#000"}, "rule": {"strokeWidth": 2.2, "color": "#000"}},
 "encoding": {
  "x": {"field": "g", "type": "nominal", "sort": null, "axis": null},
  "y": {"field": "m", "type": "quantitative", "axis": null, "scale": {"domain": [0, 150], "nice": false}},
  "yError": {"field": "s"}
 }},
{"data": {"name": "groups"}, "transform": [{"filter": "datum.c === 'A'"}],
 "mark": {"type": "text", "align": "left", "baseline": "middle", "fontSize": 20, "fontWeight": "bold", "fontStyle": "italic", "color": "#000"},
 "encoding": {
  "x": {"datum": "Ctrl. (w1118)", "type": "nominal", "bandPosition": 0, "axis": null},
  "y": {"datum": 148, "type": "quantitative", "axis": null},
  "text": {"field": "label"}
 }}
],
"resolve": {"axis": {"x": "independent", "y": "independent"}}
},
{
"width": 383, "height": 381,
"layer": [
{"data": {"name": "bars"}, "transform": [{"filter": "datum.c === 'F'"}],
 "mark": {"type": "bar"},
 "encoding": {
  "x": {"field": "g", "type": "nominal", "sort": null, "scale": {"domain": ["Ctrl. (w1118)","UAS-White RNAi","UAS-STAT RNAi","UAS-Foxo RNAi","UAS-Relish RNAi","UAS-HNF4 RNAi","UAS-Nrf2 RNAi","UAS-PGC1α RNAi","UAS-Egfr RNAi","UAS-Myc RNAi"], "paddingInner": 0.306, "paddingOuter": 0.472, "align": 0.5},
   "axis": {"title": null, "labelAngle": -60, "labelFontSize": 20, "labelFontWeight": "bold", "labelColor": {"condition": {"test": "datum.value === 'UAS-STAT RNAi'", "value": "#e27a88"}, "value": "#231f20"}, "labelPadding": 11, "labelLimit": 300, "tickSize": 15, "tickWidth": 2.5, "tickColor": "#231f20", "domainWidth": 2.5, "domainColor": "#231f20"}},
  "y": {"field": "m", "type": "quantitative", "scale": {"domain": [0, 150], "nice": false},
   "axis": {"orient": "left", "title": null, "labels": false, "ticks": false, "domainDash": [4, 3], "domainWidth": 2, "domainColor": "#231f20"}},
  "color": {"field": "g", "type": "nominal", "legend": null, "scale": {"domain": ["Ctrl. (w1118)","UAS-White RNAi","UAS-STAT RNAi","UAS-Foxo RNAi","UAS-Relish RNAi","UAS-HNF4 RNAi","UAS-Nrf2 RNAi","UAS-PGC1α RNAi","UAS-Egfr RNAi","UAS-Myc RNAi"], "range": ["#dcdcdb","#dcdcdb","#de717f","#a0a19f","#a0a19f","#a0a19f","#a0a19f","#a0a19f","#a0a19f","#a0a19f"]}}
 }},
{"data": {"name": "points"}, "transform": [{"filter": "datum.c === 'F'"}],
 "mark": {"type": "point", "shape": "circle", "filled": false, "size": 95, "color": "#000", "strokeWidth": 1.2, "opacity": 1},
 "encoding": {
  "x": {"field": "g", "type": "nominal", "sort": null, "scale": {"domain": ["Ctrl. (w1118)","UAS-White RNAi","UAS-STAT RNAi","UAS-Foxo RNAi","UAS-Relish RNAi","UAS-HNF4 RNAi","UAS-Nrf2 RNAi","UAS-PGC1α RNAi","UAS-Egfr RNAi","UAS-Myc RNAi"]},
   "axis": {"orient": "bottom", "offset": 187, "labels": false, "ticks": false, "domain": true, "domainWidth": 2.5, "domainColor": "#231f20", "title": null}},
  "xOffset": {"field": "j", "type": "quantitative", "scale": {"domain": [-3, 3], "range": [5.5, 19.5]}},
  "y": {"field": "v", "type": "quantitative", "scale": {"domain": [0, 150], "nice": false}, "axis": null}
 }},
{"data": {"name": "bars"}, "transform": [{"filter": "datum.c === 'F'"}],
 "mark": {"type": "errorbar", "ticks": {"size": 12, "thickness": 2.2, "color": "#000"}, "rule": {"strokeWidth": 2.2, "color": "#000"}},
 "encoding": {
  "x": {"field": "g", "type": "nominal", "sort": null, "axis": null},
  "y": {"field": "m", "type": "quantitative", "axis": null, "scale": {"domain": [0, 150], "nice": false}},
  "yError": {"field": "s"}
 }},
{"data": {"name": "groups"}, "transform": [{"filter": "datum.c === 'F'"}],
 "mark": {"type": "text", "align": "left", "baseline": "middle", "fontSize": 20, "fontWeight": "bold", "color": "#000", "dx": -6},
 "encoding": {
  "x": {"datum": "Ctrl. (w1118)", "type": "nominal", "bandPosition": 0, "axis": null},
  "y": {"datum": 148, "type": "quantitative", "axis": null},
  "text": {"field": "label"}
 }}
],
"resolve": {"axis": {"x": "independent", "y": "independent"}}
},
{
"width": 374, "height": 381,
"layer": [
{"data": {"name": "bars"}, "transform": [{"filter": "datum.c === 'R'"}],
 "mark": {"type": "bar"},
 "encoding": {
  "x": {"field": "g", "type": "nominal", "sort": null, "scale": {"domain": ["Ctrl. (w1118)","UAS-White RNAi","UAS-STAT RNAi","UAS-Foxo RNAi","UAS-Relish RNAi","UAS-HNF4 RNAi","UAS-Nrf2 RNAi","UAS-PGC1α RNAi","UAS-Egfr RNAi","UAS-Myc RNAi"], "paddingInner": 0.306, "paddingOuter": 0.347, "align": 0.7},
   "axis": {"title": null, "labelAngle": -60, "labelFontSize": 20, "labelFontWeight": "bold", "labelColor": {"condition": {"test": "datum.value === 'UAS-STAT RNAi'", "value": "#e27a88"}, "value": "#231f20"}, "labelPadding": 11, "labelLimit": 300, "tickSize": 15, "tickWidth": 2.5, "tickColor": "#231f20", "domainWidth": 2.5, "domainColor": "#231f20"}},
  "y": {"field": "m", "type": "quantitative", "scale": {"domain": [0, 150], "nice": false},
   "axis": {"orient": "left", "title": null, "labels": false, "ticks": false, "domainDash": [4, 3], "domainWidth": 2, "domainColor": "#231f20"}},
  "color": {"field": "g", "type": "nominal", "legend": null, "scale": {"domain": ["Ctrl. (w1118)","UAS-White RNAi","UAS-STAT RNAi","UAS-Foxo RNAi","UAS-Relish RNAi","UAS-HNF4 RNAi","UAS-Nrf2 RNAi","UAS-PGC1α RNAi","UAS-Egfr RNAi","UAS-Myc RNAi"], "range": ["#dcdcdb","#dcdcdb","#de717f","#a0a19f","#a0a19f","#a0a19f","#a0a19f","#a0a19f","#a0a19f","#a0a19f"]}}
 }},
{"data": {"name": "points"}, "transform": [{"filter": "datum.c === 'R'"}],
 "mark": {"type": "point", "shape": "circle", "filled": false, "size": 95, "color": "#000", "strokeWidth": 1.1, "opacity": 1},
 "encoding": {
  "x": {"field": "g", "type": "nominal", "sort": null, "scale": {"domain": ["Ctrl. (w1118)","UAS-White RNAi","UAS-STAT RNAi","UAS-Foxo RNAi","UAS-Relish RNAi","UAS-HNF4 RNAi","UAS-Nrf2 RNAi","UAS-PGC1α RNAi","UAS-Egfr RNAi","UAS-Myc RNAi"]},
   "axis": {"orient": "bottom", "offset": 187, "labels": false, "ticks": false, "domain": true, "domainWidth": 2.5, "domainColor": "#231f20", "title": null}},
  "xOffset": {"field": "j", "type": "quantitative", "scale": {"domain": [-3, 3], "range": [5.5, 19.5]}},
  "y": {"field": "v", "type": "quantitative", "scale": {"domain": [0, 150], "nice": false}, "axis": null}
 }},
{"data": {"name": "bars"}, "transform": [{"filter": "datum.c === 'R'"}],
 "mark": {"type": "errorbar", "ticks": {"size": 12, "thickness": 2.2, "color": "#000"}, "rule": {"strokeWidth": 2.2, "color": "#000"}},
 "encoding": {
  "x": {"field": "g", "type": "nominal", "sort": null, "axis": null},
  "y": {"field": "m", "type": "quantitative", "axis": null, "scale": {"domain": [0, 150], "nice": false}},
  "yError": {"field": "s"}
 }},
{"data": {"name": "groups"}, "transform": [{"filter": "datum.c === 'R'"}],
 "mark": {"type": "text", "align": "left", "baseline": "middle", "fontSize": 20, "fontWeight": "bold", "color": "#000", "dx": -10},
 "encoding": {
  "x": {"datum": "Ctrl. (w1118)", "type": "nominal", "bandPosition": 0, "axis": null},
  "y": {"datum": 148, "type": "quantitative", "axis": null},
  "text": {"field": "label"}
 }},
{"data": {"name": "pvals"},
 "mark": {"type": "rule", "color": "#8c8c8c", "strokeWidth": 2},
 "encoding": {
  "x": {"field": "g1", "type": "nominal", "axis": null},
  "x2": {"field": "g2"},
  "y": {"field": "y", "type": "quantitative", "axis": null}
 }},
{"data": {"name": "pvals"}, "transform": [{"filter": "datum.k === 1"}],
 "mark": {"type": "text", "align": "center", "baseline": "middle", "fontSize": 14.5, "fontWeight": "bold", "color": "#8c8c8c", "dx": 2},
 "encoding": {
  "x": {"field": "tg", "type": "nominal", "axis": null},
  "y": {"field": "ty", "type": "quantitative", "axis": null},
  "text": {"field": "label"}
 }},
{"data": {"name": "pvals"}, "transform": [{"filter": "datum.k === 2"}],
 "mark": {"type": "text", "align": "center", "baseline": "middle", "fontSize": 14.5, "fontWeight": "bold", "color": "#8c8c8c", "dx": -11},
 "encoding": {
  "x": {"field": "tg", "type": "nominal", "axis": null},
  "y": {"field": "ty", "type": "quantitative", "axis": null},
  "text": {"field": "label"}
 }}
],
"resolve": {"axis": {"x": "independent", "y": "independent"}}
}
]
}
